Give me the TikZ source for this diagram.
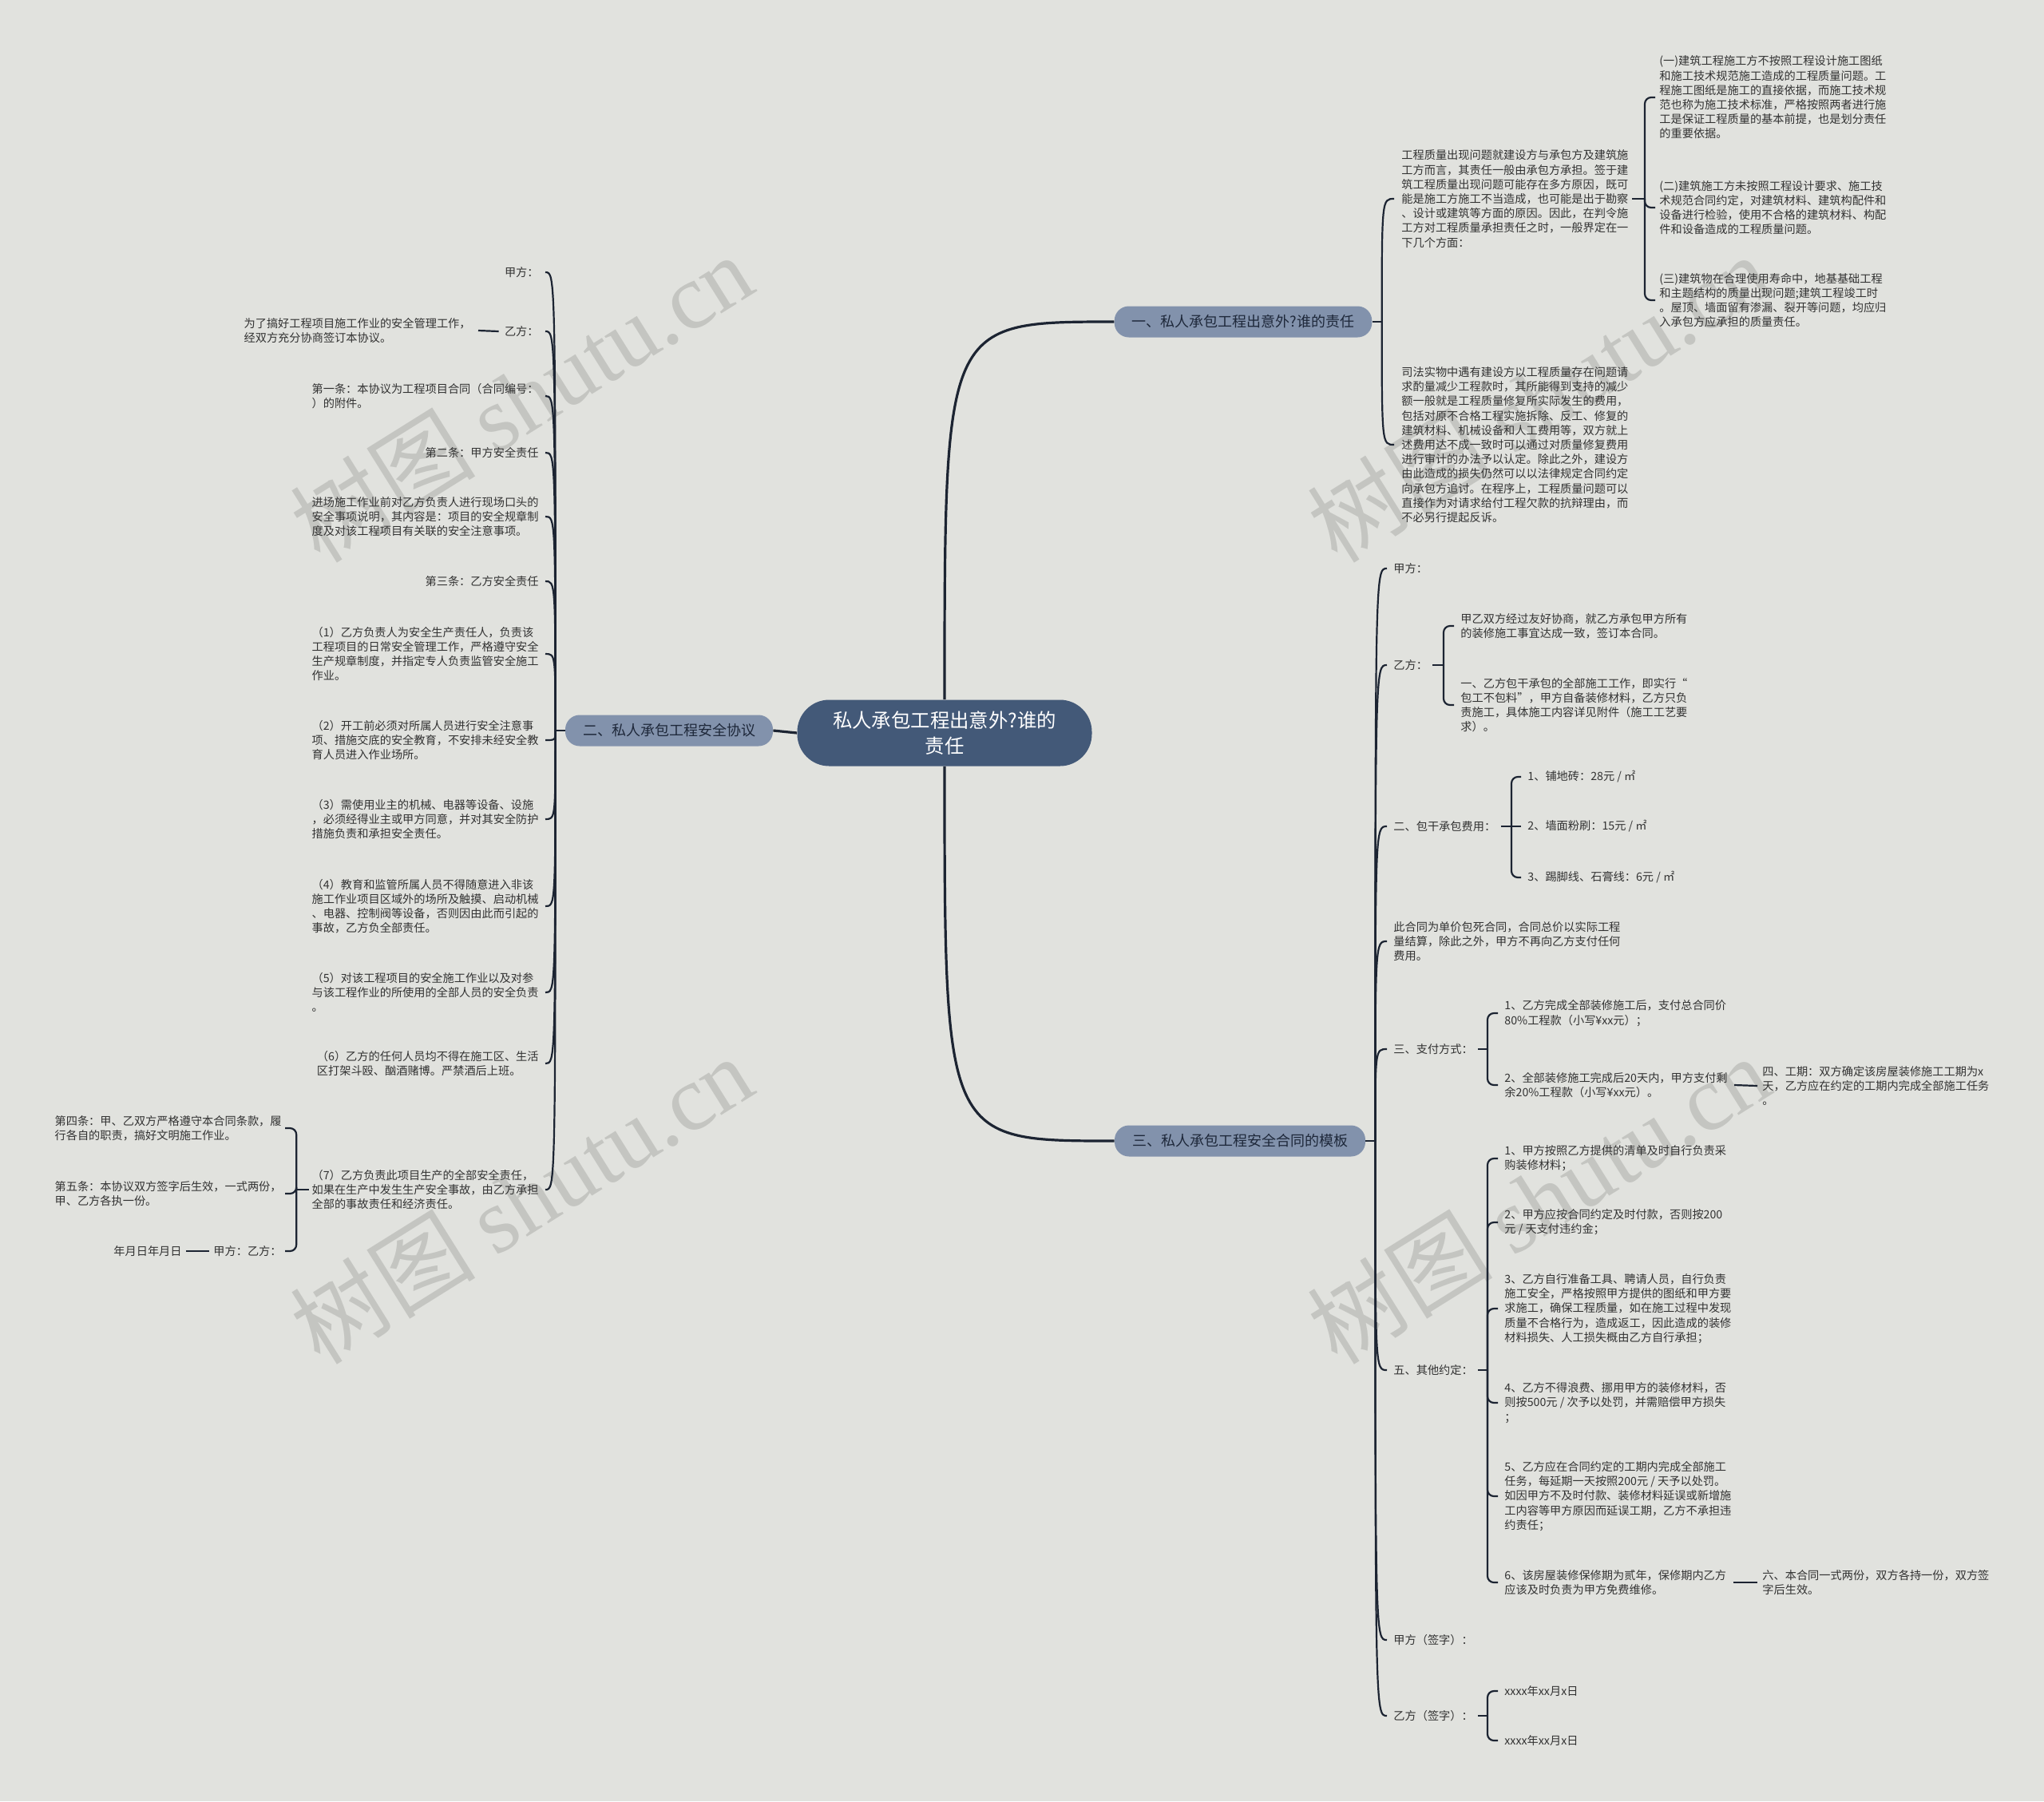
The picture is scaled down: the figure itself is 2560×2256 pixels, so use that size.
\documentclass[tikz,border=0pt]{standalone}
\usepackage{fontspec}
\setmainfont{Noto Sans CJK SC}
\newfontfamily\wmfont{Liberation Serif}
\usetikzlibrary{calc}
\definecolor{bg}{RGB}{225,226,222}
\definecolor{cfill}{RGB}{67,89,120}
\definecolor{bfill}{RGB}{130,146,172}
\definecolor{ln}{RGB}{28,36,50}
\definecolor{txt}{RGB}{50,50,50}
\definecolor{btxt}{RGB}{30,40,58}
\definecolor{wm}{RGB}{196,197,193}
\begin{document}
\begin{tikzpicture}[x=0.5pt,y=-0.5pt,
  leaf/.style={font=\fontsize{7.1}{9.1}\selectfont, text=txt, inner sep=0pt, align=left},
  conn/.style={draw=ln, line width=1.1pt},
  mainline/.style={draw=ln, line width=1.6pt},
  brk/.style={draw=ln, line width=1.1pt, rounded corners=4pt},
  topic/.style={fill=bfill, rounded corners=9pt, minimum height=19.5pt, inner xsep=11pt, inner ysep=0pt, font=\fontsize{9}{11}\selectfont, text=btxt},
  wmark/.style={text=wm, rotate=32, font=\fontsize{58}{60}\selectfont, inner sep=0pt}
]
\fill[bg] (0,0) rectangle (2560,2256);
\useasboundingbox (0,0) rectangle (2560,2256);

% watermarks
\node[wmark] (w1) at (653,498) {树图 {\wmfont shutu.cn}};
\node[wmark] (w2) at (653,1502) {树图 {\wmfont shutu.cn}};
\node[wmark] (w3) at (1927,498) {树图 {\wmfont shutu.cn}};
\node[wmark] (w4) at (1927,1502) {树图 {\wmfont shutu.cn}};

% center and topics
\node[fill=cfill, rounded corners=20pt, minimum width=184.5pt, minimum height=41.5pt, text=white, font=\fontsize{12.2}{16.3}\selectfont, align=center, inner sep=0pt] (c) at (1183,918) {私人承包工程出意外?谁的\\责任};
\node[topic] (b1) at (1557,403) {一、私人承包工程出意外?谁的责任};
\node[topic] (b2) at (838,915) {二、私人承包工程安全协议};
\node[topic] (b3) at (1553,1429) {三、私人承包工程安全合同的模板};

% branch 1 children
\node[leaf, anchor=west] (r1a) at (1755,249) {工程质量出现问题就建设方与承包方及建筑施\\工方而言，其责任一般由承包方承担。签于建\\筑工程质量出现问题可能存在多方原因，既可\\能是施工方施工不当造成，也可能是出于勘察\\、设计或建筑等方面的原因。因此，在判令施\\工方对工程质量承担责任之时，一般界定在一\\下几个方面：};
\node[leaf, anchor=west] (r1b) at (1755,557) {司法实物中遇有建设方以工程质量存在问题请\\求酌量减少工程款时，其所能得到支持的减少\\额一般就是工程质量修复所实际发生的费用，\\包括对原不合格工程实施拆除、反工、修复的\\建筑材料、机械设备和人工费用等，双方就上\\述费用达不成一致时可以通过对质量修复费用\\进行审计的办法予以认定。除此之外，建设方\\由此造成的损失仍然可以以法律规定合同约定\\向承包方追讨。在程序上，工程质量问题可以\\直接作为对请求给付工程欠款的抗辩理由，而\\不必另行提起反诉。};
\node[leaf, anchor=west] (r1a1) at (2078,122) {(一)建筑工程施工方不按照工程设计施工图纸\\和施工技术规范施工造成的工程质量问题。工\\程施工图纸是施工的直接依据，而施工技术规\\范也称为施工技术标准，严格按照两者进行施\\工是保证工程质量的基本前提，也是划分责任\\的重要依据。};
\node[leaf, anchor=west] (r1a2) at (2078,260) {(二)建筑施工方未按照工程设计要求、施工技\\术规范合同约定，对建筑材料、建筑构配件和\\设备进行检验，使用不合格的建筑材料、构配\\件和设备造成的工程质量问题。};
\node[leaf, anchor=west] (r1a3) at (2078,376) {(三)建筑物在合理使用寿命中，地基基础工程\\和主题结构的质量出现问题;建筑工程竣工时\\。屋顶、墙面留有渗漏、裂开等问题，均应归\\入承包方应承担的质量责任。};

% branch 3 children
\node[leaf, anchor=west] (t1) at (1745,712) {甲方：};
\node[leaf, anchor=west] (t2) at (1745,833) {乙方：};
\node[leaf, anchor=west] (t21) at (1829,784) {甲乙双方经过友好协商，就乙方承包甲方所有\\的装修施工事宜达成一致，签订本合同。};
\node[leaf, anchor=west] (t22) at (1829,883) {一、乙方包干承包的全部施工工作，即实行“\\包工不包料”，甲方自备装修材料，乙方只负\\责施工，具体施工内容详见附件（施工工艺要\\求）。};
\node[leaf, anchor=west] (t3) at (1745,1035) {二、包干承包费用：};
\node[leaf, anchor=west] (t31) at (1913,973) {1、铺地砖：28元 / ㎡};
\node[leaf, anchor=west] (t32) at (1913,1035) {2、墙面粉刷：15元 / ㎡};
\node[leaf, anchor=west] (t33) at (1913,1099) {3、踢脚线、石膏线：6元 / ㎡};
\node[leaf, anchor=west] (t4) at (1745,1179) {此合同为单价包死合同，合同总价以实际工程\\量结算，除此之外，甲方不再向乙方支付任何\\费用。};
\node[leaf, anchor=west] (t5) at (1745,1314) {三、支付方式：};
\node[leaf, anchor=west] (t51) at (1884,1269) {1、乙方完成全部装修施工后，支付总合同价\\80\%工程款（小写¥xx元）；};
\node[leaf, anchor=west] (t52) at (1884,1359) {2、全部装修施工完成后20天内，甲方支付剩\\余20\%工程款（小写¥xx元）。};
\node[leaf, anchor=west] (t521) at (2207,1360) {四、工期：双方确定该房屋装修施工工期为x\\天，乙方应在约定的工期内完成全部施工任务\\。};
\node[leaf, anchor=west] (t6) at (1745,1716) {五、其他约定：};
\node[leaf, anchor=west] (t61) at (1884,1451) {1、甲方按照乙方提供的清单及时自行负责采\\购装修材料；};
\node[leaf, anchor=west] (t62) at (1884,1531) {2、甲方应按合同约定及时付款，否则按200\\元 / 天支付违约金；};
\node[leaf, anchor=west] (t63) at (1884,1639) {3、乙方自行准备工具、聘请人员，自行负责\\施工安全，严格按照甲方提供的图纸和甲方要\\求施工，确保工程质量，如在施工过程中发现\\质量不合格行为，造成返工，因此造成的装修\\材料损失、人工损失概由乙方自行承担；};
\node[leaf, anchor=west] (t64) at (1884,1757) {4、乙方不得浪费、挪用甲方的装修材料，否\\则按500元 / 次予以处罚，并需赔偿甲方损失\\；};
\node[leaf, anchor=west] (t65) at (1884,1874) {5、乙方应在合同约定的工期内完成全部施工\\任务，每延期一天按照200元 / 天予以处罚。\\如因甲方不及时付款、装修材料延误或新增施\\工内容等甲方原因而延误工期，乙方不承担违\\约责任；};
\node[leaf, anchor=west] (t66) at (1884,1982) {6、该房屋装修保修期为贰年，保修期内乙方\\应该及时负责为甲方免费维修。};
\node[leaf, anchor=west] (t661) at (2207,1982) {六、本合同一式两份，双方各持一份，双方签\\字后生效。};
\node[leaf, anchor=west] (t7) at (1745,2054) {甲方（签字）：};
\node[leaf, anchor=west] (t8) at (1745,2149) {乙方（签字）：};
\node[leaf, anchor=west] (t81) at (1884,2118) {xxxx年xx月x日};
\node[leaf, anchor=west] (t82) at (1884,2180) {xxxx年xx月x日};

% branch 2 children (left)
\node[leaf, anchor=east] (l1) at (675,341) {甲方：};
\node[leaf, anchor=east] (l2) at (675,415) {乙方：};
\node[leaf, anchor=east] (l21) at (590,414) {为了搞好工程项目施工作业的安全管理工作，\\经双方充分协商签订本协议。};
\node[leaf, anchor=east] (l3) at (675,496) {第一条：本协议为工程项目合同（合同编号：\\）的附件。};
\node[leaf, anchor=east] (l4) at (675,567) {第二条：甲方安全责任};
\node[leaf, anchor=east] (l5) at (675,647) {进场施工作业前对乙方负责人进行现场口头的\\安全事项说明，其内容是：项目的安全规章制\\度及对该工程项目有关联的安全注意事项。};
\node[leaf, anchor=east] (l6) at (675,728) {第三条：乙方安全责任};
\node[leaf, anchor=east] (l7) at (675,819) {（1）乙方负责人为安全生产责任人，负责该\\工程项目的日常安全管理工作，严格遵守安全\\生产规章制度，并指定专人负责监管安全施工\\作业。};
\node[leaf, anchor=east] (l8) at (675,927) {（2）开工前必须对所属人员进行安全注意事\\项、措施交底的安全教育，不安排未经安全教\\育人员进入作业场所。};
\node[leaf, anchor=east] (l9) at (675,1026) {（3）需使用业主的机械、电器等设备、设施\\，必须经得业主或甲方同意，并对其安全防护\\措施负责和承担安全责任。};
\node[leaf, anchor=east] (l10) at (675,1135) {（4）教育和监管所属人员不得随意进入非该\\施工作业项目区域外的场所及触摸、启动机械\\、电器、控制阀等设备，否则因由此而引起的\\事故，乙方负全部责任。};
\node[leaf, anchor=east] (l11) at (675,1243) {（5）对该工程项目的安全施工作业以及对参\\与该工程作业的所使用的全部人员的安全负责\\。};
\node[leaf, anchor=east] (l12) at (675,1332) {（6）乙方的任何人员均不得在施工区、生活\\区打架斗殴、酗酒赌博。严禁酒后上班。};
\node[leaf, anchor=east] (l13) at (675,1490) {（7）乙方负责此项目生产的全部安全责任，\\如果在生产中发生生产安全事故，由乙方承担\\全部的事故责任和经济责任。};
\node[leaf, anchor=east] (l131) at (353,1413) {第四条：甲、乙双方严格遵守本合同条款，履\\行各自的职责，搞好文明施工作业。};
\node[leaf, anchor=east] (l132) at (353,1495) {第五条：本协议双方签字后生效，一式两份，\\甲、乙方各执一份。};
\node[leaf, anchor=east] (l133) at (353,1567) {甲方：乙方：};
\node[leaf, anchor=east] (l1331) at (228,1567) {年月日年月日};

% main connectors
\draw[mainline] (c.north) .. controls (c.north |- b1.west) .. (b1.west);
\draw[mainline] (c.south) .. controls (c.south |- b3.west) .. (b3.west);
\draw[mainline] (c.west) -- (b2.east);

% branch 1 spine
\coordinate (s1) at ($(b1.east)+(12,0)$);
\draw[conn] (b1.east) -- (s1);
\foreach \n in {r1a,r1b} \draw[conn] (s1) .. controls (s1 |- \n.west) .. ($(\n.west)+(-9,0)$);
% r1a brace
\coordinate (k1) at ($(r1a1.west)+(-18,0)$);
\draw[conn] ($(r1a.east)+(4,0)$) -- (k1 |- r1a.east);
\foreach \n in {r1a1,r1a2,r1a3} \draw[brk] ($(\n.west)+(-5,0)$) -| (k1 |- r1a.east);

% branch 3 spine
\coordinate (s3) at ($(b3.east)+(12,0)$);
\draw[conn] (b3.east) -- (s3);
\foreach \n in {t1,t2,t3,t4,t5,t6,t7,t8} \draw[conn] (s3) .. controls (s3 |- \n.west) .. ($(\n.west)+(-8,0)$);
% braces
\coordinate (k2) at ($(t21.west)+(-21,0)$);
\draw[conn] ($(t2.east)+(6,0)$) -- (k2 |- t2.east);
\foreach \n in {t21,t22} \draw[brk] ($(\n.west)+(-8,0)$) -| (k2 |- t2.east);
\coordinate (k3) at ($(t31.west)+(-20,0)$);
\draw[conn] ($(t3.east)+(6,0)$) -- (k3 |- t3.east);
\foreach \n in {t31,t33} \draw[brk] ($(\n.west)+(-8,0)$) -| (k3 |- t3.east);
\draw[conn] ($(t32.west)+(-8,0)$) -- (k3 |- t32.west);
\coordinate (k5) at ($(t51.west)+(-21,0)$);
\draw[conn] ($(t5.east)+(6,0)$) -- (k5 |- t5.east);
\foreach \n in {t51,t52} \draw[brk] ($(\n.west)+(-8,0)$) -| (k5 |- t5.east);
\draw[conn] ($(t52.east)+(8,0)$) -- ($(t521.west)+(-6,0)$);
\coordinate (k6) at ($(t61.west)+(-21,0)$);
\draw[conn] ($(t6.east)+(6,0)$) -- (k6 |- t6.east);
\foreach \n in {t61,t62,t63,t64,t65,t66} \draw[brk] ($(\n.west)+(-8,0)$) -| (k6 |- t6.east);
\draw[conn] ($(t66.east)+(8,0)$) -- ($(t661.west)+(-6,0)$);
\coordinate (k8) at ($(t81.west)+(-21,0)$);
\draw[conn] ($(t8.east)+(6,0)$) -- (k8 |- t8.east);
\foreach \n in {t81,t82} \draw[brk] ($(\n.west)+(-8,0)$) -| (k8 |- t8.east);

% branch 2 spine
\coordinate (s2) at ($(b2.west)+(-12,0)$);
\draw[conn] (b2.west) -- (s2);
\foreach \n in {l1,l2,l3,l4,l5,l6,l7,l8,l9,l10,l11,l12,l13} \draw[conn] (s2) .. controls (s2 |- \n.east) .. ($(\n.east)+(8,0)$);
\draw[conn] ($(l2.west)+(-7,0)$) -- ($(l21.east)+(9,0)$);
\coordinate (k4) at ($(l13.west)+(-19,0)$);
\draw[conn] ($(l13.west)+(-3,0)$) -- (k4 |- l13.west);
\foreach \n in {l131,l132,l133} \draw[brk] ($(\n.east)+(4,0)$) -| (k4 |- l13.west);
\draw[conn] ($(l133.west)+(-5,0)$) -- ($(l1331.east)+(5,0)$);
\end{tikzpicture}
\end{document}
